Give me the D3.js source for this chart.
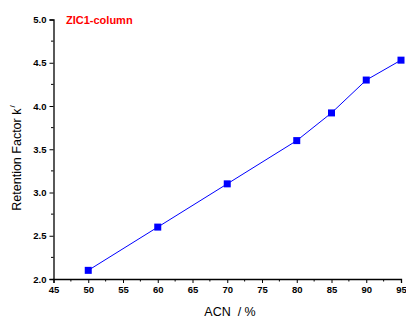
<!DOCTYPE html>
<html>
<head>
<meta charset="utf-8">
<script src="https://cdn.jsdelivr.net/npm/d3@7"></script>
<style>
  body { margin: 0; background: #fff; }
  svg { display: block; font-family: Arial, "Liberation Sans", sans-serif; }
</style>
</head>
<body>
<script>
// Data
const acn = [50, 60, 70, 80, 85, 90, 95];
const kPrime = [2.1, 2.6, 3.1, 3.6, 3.92, 4.3, 4.53];
const xTicks = [45, 50, 55, 60, 65, 70, 75, 80, 85, 90, 95];
const yTicks = [2.0, 2.5, 3.0, 3.5, 4.0, 4.5, 5.0];

const width = 406;
const height = 320;
const margin = {top: 19.5, right: 5, bottom: 41, left: 53.5};

const x = d3.scaleLinear([45, 95], [margin.left, width - margin.right]);
const y = d3.scaleLinear([2, 5], [height - margin.bottom, margin.top]);

const svg = d3.select("body").append("svg")
    .attr("width", width)
    .attr("height", height);

// Bottom axis
const xAxis = svg.append("g")
    .attr("transform", `translate(0,${y(2)})`)
    .call(d3.axisBottom(x).tickValues(xTicks).tickFormat(d3.format("d")).tickSizeOuter(0).tickSize(4).tickPadding(3));

// minor ticks on x
svg.append("g")
    .selectAll("line")
    .data(d3.range(47.5, 95, 5))
    .join("line")
    .attr("x1", d => x(d)).attr("x2", d => x(d))
    .attr("y1", y(2)).attr("y2", y(2) + 2.5)
    .attr("stroke", "#000");

// Left axis
const yAxis = svg.append("g")
    .attr("transform", `translate(${x(45)},0)`)
    .call(d3.axisLeft(y).tickValues(yTicks).tickFormat(d3.format(".1f")).tickSizeOuter(0).tickSize(4).tickPadding(3));

svg.append("g")
    .selectAll("line")
    .data(d3.range(2.25, 5, 0.5))
    .join("line")
    .attr("x1", x(45)).attr("x2", x(45) - 2.5)
    .attr("y1", d => y(d)).attr("y2", d => y(d))
    .attr("stroke", "#000");

for (const g of [xAxis, yAxis]) {
    g.select(".domain").attr("stroke-width", 1.3);
    g.selectAll("text")
        .attr("font-size", 9.5)
        .attr("font-weight", "bold")
        .attr("font-family", "Arial, 'Liberation Sans', sans-serif")
        .attr("fill", "#000");
}

// Line
svg.append("path")
    .datum(acn.map((d, i) => [d, kPrime[i]]))
    .attr("fill", "none")
    .attr("stroke", "#0000ff")
    .attr("stroke-width", 1)
    .attr("d", d3.line(d => x(d[0]), d => y(d[1])));

// Square markers
svg.append("g")
    .selectAll("rect")
    .data(acn)
    .join("rect")
    .attr("x", d => x(d) - 3.5)
    .attr("y", (d, i) => y(kPrime[i]) - 3.5)
    .attr("width", 7)
    .attr("height", 7)
    .attr("fill", "#0000ff");

// Title
svg.append("text")
    .attr("x", 66)
    .attr("y", 24)
    .attr("font-size", 11)
    .attr("font-weight", "bold")
    .attr("fill", "#ff0000")
    .text("ZIC1-column");

// Axis titles
svg.append("text")
    .attr("x", 230)
    .attr("y", 316)
    .attr("text-anchor", "middle")
    .attr("font-size", 12.5)
    .style("white-space", "pre")
    .text("ACN  / %");

const yl = svg.append("text")
    .attr("transform", `translate(21,158) rotate(-90)`)
    .attr("text-anchor", "middle")
    .attr("font-size", 12.5);
yl.append("tspan").text("Retention Factor k");
yl.append("tspan").attr("font-size", 8).attr("dy", -6).attr("dx", 1).text("/");
</script>
</body>
</html>
